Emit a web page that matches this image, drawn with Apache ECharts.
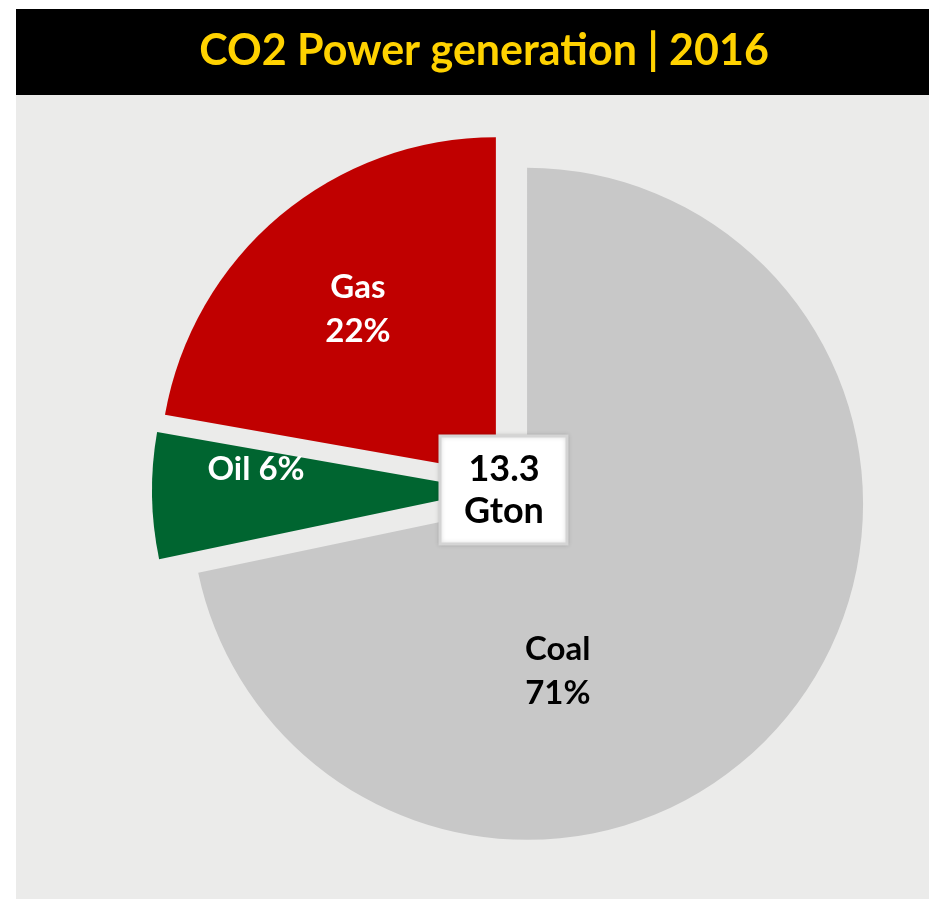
<!DOCTYPE html>
<html>
<head>
<meta charset="utf-8">
<script src="https://cdn.jsdelivr.net/npm/echarts@6/dist/echarts.min.js"></script>
<style>
  html, body { margin: 0; padding: 0; background: #fff; }
  #chart { width: 929px; height: 899px; }
</style>
</head>
<body>
<div id="chart"></div>
<script>
// data
const titleText = "CO2 Power generation | 2016";
const fuels = ["Coal", "Oil", "Gas"];
const shares = [71, 6, 22];
const totalGton = 13.3;

const colors = { Coal: "#c8c8c8", Oil: "#006530", Gas: "#c00000" };
const labelColor = { Coal: "#000", Oil: "#fff", Gas: "#fff" };
// nudges so labels sit where the original put them
const labelShift = { Coal: [-102, 60], Oil: [-61, -24], Gas: [-28, -33] };

const chart = echarts.init(document.getElementById("chart"));

const option = {
  animation: false,
  title: {
    text: titleText,
    left: 479,
    top: 25,
    textAlign: "center",
    textStyle: {
      color: "#ffd200",
      fontFamily: "Lato",
      fontWeight: "bold",
      fontSize: 43
    }
  },
  graphic: [
    { type: "rect", z: -10, shape: { x: 16, y: 95, width: 913, height: 804 }, style: { fill: "#ebebea" } },
    { type: "rect", z: -10, shape: { x: 16, y: 9, width: 913, height: 86 }, style: { fill: "#000" } },
    {
      type: "rect",
      zlevel: 1,
      z: 100,
      shape: { x: 440, y: 436, width: 127, height: 108 },
      style: { fill: "#fff", stroke: "#d4d4d4", lineWidth: 3,
               shadowBlur: 4, shadowColor: "rgba(0,0,0,0.15)" }
    },
    {
      type: "text",
      zlevel: 1,
      z: 101,
      x: 504,
      y: 490,
      style: {
        text: totalGton + "\nGton",
        fill: "#000",
        font: "bold 36px Lato",
        lineHeight: 42,
        align: "center",
        verticalAlign: "middle"
      }
    }
  ],
  series: [
    {
      type: "pie",
      center: [510, 490],
      radius: 336,
      startAngle: 90,
      clockwise: true,
      selectedMode: "multiple",
      selectedOffset: 22,
      avoidLabelOverlap: false,
      emphasis: { disabled: true },
      label: {
        show: true,
        position: "inside",
        fontFamily: "Lato",
        fontWeight: "bold",
        fontSize: 33,
        lineHeight: 44
      },
      labelLine: { show: false },
      labelLayout: function (params) {
        const s = labelShift[fuels[params.dataIndex]];
        return { dx: s[0], dy: s[1] };
      },
      data: fuels.map((name, i) => ({
        name: name,
        value: shares[i],
        selected: true,
        itemStyle: { color: colors[name] },
        label: {
          color: labelColor[name],
          formatter: name === "Oil" ? name + " " + shares[i] + "%" : name + "\n" + shares[i] + "%"
        }
      }))
    }
  ]
};

chart.setOption(option);
</script>
</body>
</html>
